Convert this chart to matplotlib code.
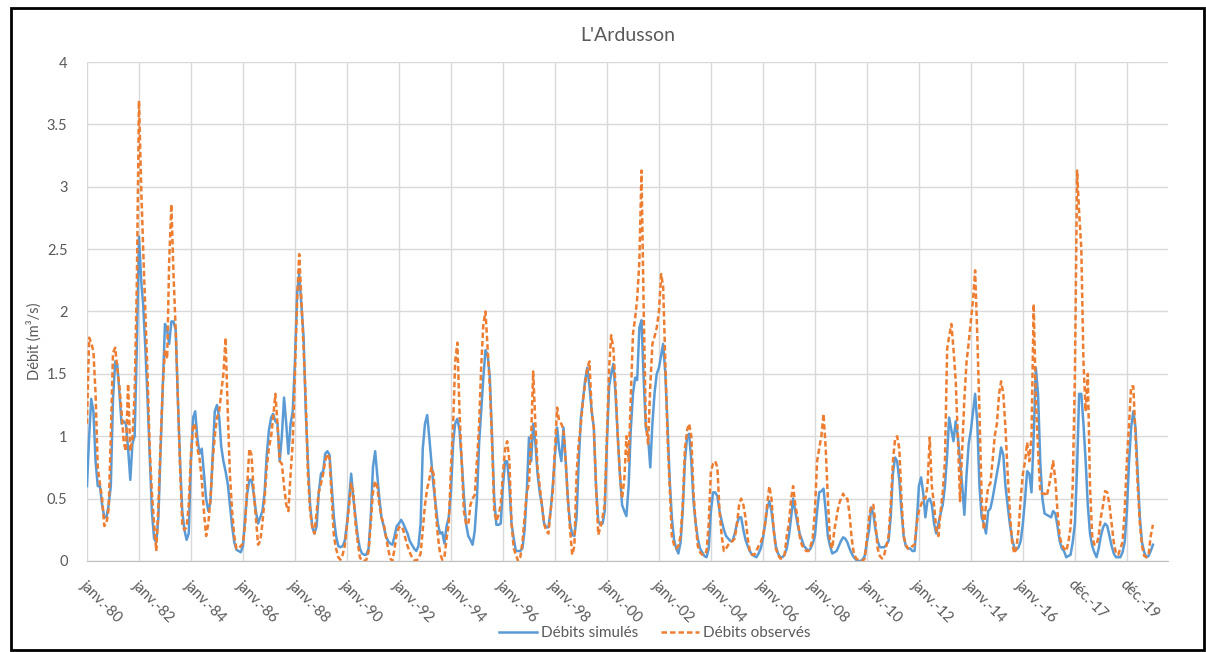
import numpy as np
import pandas as pd
import matplotlib
matplotlib.use('Agg')
from matplotlib import pyplot as plt
from matplotlib.patches import Rectangle

plt.rcParams['font.family'] = ['Lato', 'DejaVu Sans']

# débits mensuels simulés (m3/s), janv. 1980 -> janv. 2021
sim_1980s = [0.6, 1.0, 1.3, 1.2, 0.8, 0.6, 0.6, 0.45, 0.35, 0.35, 0.45, 0.6,
             1.3, 1.6, 1.58, 1.35, 1.1, 1.12, 1.1, 0.9, 0.65, 0.94, 1.0, 1.7,
             2.6, 2.25, 2.05, 1.7, 1.3, 0.85, 0.4, 0.18, 0.15, 0.35, 0.9, 1.4,
             1.9, 1.85, 1.74, 1.92, 1.92, 1.85, 1.3, 0.8, 0.4, 0.25, 0.17, 0.22,
             0.8, 1.15, 1.2, 0.98, 0.86, 0.9, 0.7, 0.5, 0.4, 0.47, 0.85, 1.2,
             1.25, 1.15, 0.92, 0.8, 0.72, 0.62, 0.45, 0.28, 0.15, 0.09, 0.08, 0.07,
             0.12, 0.35, 0.54, 0.65, 0.65, 0.54, 0.4, 0.3, 0.35, 0.4, 0.55, 0.85,
             1.05, 1.15, 1.18, 1.12, 1.1, 0.8, 1.0, 1.31, 1.1, 0.86, 1.1, 1.2,
             1.6, 2.15, 2.3, 2.05, 1.8, 1.2, 0.8, 0.45, 0.27, 0.22, 0.28, 0.55,
             0.7, 0.72, 0.86, 0.88, 0.85, 0.6, 0.35, 0.2, 0.12, 0.11, 0.12, 0.16]
sim_1990s = [0.3, 0.5, 0.7, 0.5, 0.35, 0.2, 0.1, 0.06, 0.05, 0.05, 0.1, 0.35,
             0.75, 0.88, 0.7, 0.5, 0.35, 0.28, 0.2, 0.16, 0.14, 0.13, 0.2, 0.28,
             0.3, 0.33, 0.3, 0.26, 0.22, 0.16, 0.13, 0.1, 0.08, 0.12, 0.3, 0.9,
             1.1, 1.17, 1.0, 0.8, 0.6, 0.45, 0.3, 0.22, 0.23, 0.14, 0.28, 0.35,
             0.55, 0.95, 1.1, 1.14, 1.05, 0.8, 0.53, 0.3, 0.2, 0.17, 0.13, 0.24,
             0.5, 0.95, 1.2, 1.47, 1.69, 1.65, 1.47, 1.0, 0.5, 0.29, 0.29, 0.3,
             0.6, 0.8, 0.8, 0.6, 0.3, 0.18, 0.08, 0.08, 0.08, 0.1, 0.25, 0.55,
             0.99, 0.8, 1.1, 0.95, 0.7, 0.55, 0.45, 0.3, 0.27, 0.27, 0.4, 0.6,
             0.85, 1.07, 0.9, 0.8, 1.07, 0.8, 0.5, 0.3, 0.21, 0.2, 0.35, 0.8,
             1.15, 1.3, 1.45, 1.55, 1.4, 1.2, 1.07, 0.6, 0.32, 0.29, 0.3, 0.4]
sim_2000s = [0.95, 1.4, 1.5, 1.58, 1.34, 1.0, 0.7, 0.45, 0.4, 0.36, 0.6, 1.05,
             1.34, 1.47, 1.45, 1.87, 1.93, 1.45, 1.07, 1.0, 0.75, 1.1, 1.35, 1.5,
             1.55, 1.65, 1.74, 1.5, 1.1, 0.65, 0.35, 0.17, 0.1, 0.06, 0.15, 0.4,
             0.8, 1.0, 1.02, 0.8, 0.48, 0.3, 0.18, 0.1, 0.07, 0.04, 0.03, 0.1,
             0.4, 0.55, 0.55, 0.52, 0.4, 0.32, 0.25, 0.2, 0.18, 0.16, 0.16, 0.22,
             0.3, 0.35, 0.35, 0.25, 0.17, 0.12, 0.08, 0.05, 0.04, 0.03, 0.06, 0.1,
             0.18, 0.3, 0.42, 0.48, 0.4, 0.25, 0.12, 0.06, 0.03, 0.03, 0.05, 0.1,
             0.2, 0.35, 0.5, 0.4, 0.3, 0.22, 0.17, 0.12, 0.1, 0.08, 0.1, 0.14,
             0.2, 0.4, 0.55, 0.56, 0.58, 0.4, 0.2, 0.12, 0.06, 0.07, 0.08, 0.12,
             0.16, 0.19, 0.18, 0.15, 0.1, 0.06, 0.03, 0.01, 0.0, 0.0, 0.01, 0.04]
sim_2010s = [0.15, 0.25, 0.43, 0.38, 0.25, 0.16, 0.11, 0.11, 0.11, 0.13, 0.16, 0.35,
             0.7, 0.83, 0.8, 0.65, 0.4, 0.2, 0.12, 0.1, 0.1, 0.08, 0.08, 0.3,
             0.6, 0.67, 0.55, 0.35, 0.48, 0.5, 0.45, 0.3, 0.22, 0.3, 0.38, 0.45,
             0.6, 0.85, 1.15, 1.05, 0.96, 1.12, 1.0, 0.8, 0.6, 0.37, 0.7, 0.94,
             1.05, 1.2, 1.34, 1.1, 0.6, 0.35, 0.3, 0.22, 0.4, 0.42, 0.5, 0.6,
             0.7, 0.8, 0.91, 0.85, 0.6, 0.45, 0.3, 0.18, 0.11, 0.09, 0.11, 0.16,
             0.3, 0.5, 0.72, 0.7, 0.55, 1.0, 1.55, 1.34, 0.8, 0.5, 0.38, 0.37,
             0.36, 0.35, 0.4, 0.38, 0.28, 0.16, 0.1, 0.08, 0.03, 0.04, 0.05, 0.15,
             0.3, 0.75, 1.34, 1.34, 1.1, 0.8, 0.45, 0.22, 0.12, 0.07, 0.03, 0.1,
             0.2, 0.27, 0.3, 0.28, 0.2, 0.12, 0.06, 0.03, 0.03, 0.03, 0.07, 0.15]
sim_2020s = [0.4, 0.8, 1.07, 1.2, 1.07, 0.7, 0.35, 0.15, 0.07, 0.03, 0.04, 0.08,
             0.13]

# débits mensuels observés (m3/s)
obs_1980s = [1.1, 1.79, 1.75, 1.68, 1.34, 0.75, 0.62, 0.5, 0.28, 0.3, 0.42, 1.0,
             1.67, 1.71, 1.55, 1.4, 1.2, 0.95, 0.88, 1.42, 0.88, 0.98, 1.35, 2.2,
             3.69, 3.0, 2.5, 2.0, 1.5, 0.9, 0.55, 0.3, 0.08, 0.45, 0.95, 1.4,
             1.69, 1.62, 2.4, 2.86, 2.3, 1.85, 1.3, 0.75, 0.29, 0.25, 0.27, 0.45,
             0.85, 1.1, 1.08, 0.9, 0.82, 0.65, 0.4, 0.2, 0.3, 0.5, 0.8, 1.0,
             1.15, 1.2, 1.35, 1.5, 1.79, 1.2, 0.7, 0.4, 0.2, 0.1, 0.1, 0.12,
             0.14, 0.3, 0.6, 0.9, 0.85, 0.55, 0.35, 0.13, 0.16, 0.3, 0.5, 0.75,
             0.91, 1.0, 1.15, 1.34, 1.1, 0.8, 0.78, 0.6, 0.45, 0.4, 0.7, 0.95,
             1.5, 2.1, 2.46, 2.1, 1.7, 1.3, 0.7, 0.4, 0.27, 0.22, 0.4, 0.55,
             0.62, 0.7, 0.8, 0.86, 0.82, 0.5, 0.2, 0.1, 0.03, 0.01, 0.05, 0.12]
obs_1990s = [0.28, 0.45, 0.62, 0.55, 0.3, 0.15, 0.03, 0.0, 0.0, 0.01, 0.08, 0.3,
             0.55, 0.64, 0.6, 0.45, 0.35, 0.3, 0.2, 0.1, 0.02, 0.0, 0.1, 0.22,
             0.27, 0.28, 0.25, 0.18, 0.12, 0.07, 0.03, 0.01, 0.0, 0.02, 0.06, 0.25,
             0.45, 0.58, 0.65, 0.75, 0.7, 0.4, 0.2, 0.06, 0.01, 0.03, 0.18, 0.3,
             0.75, 1.1, 1.6, 1.75, 1.2, 0.8, 0.4, 0.3, 0.29, 0.45, 0.5, 0.53,
             0.8, 1.1, 1.55, 1.9, 2.0, 1.7, 1.4, 0.95, 0.4, 0.32, 0.37, 0.45,
             0.7, 0.9, 0.96, 0.8, 0.3, 0.1, 0.05, 0.0, 0.03, 0.15, 0.35, 0.55,
             0.62, 1.0, 1.52, 1.1, 0.75, 0.6, 0.45, 0.3, 0.24, 0.22, 0.4, 0.55,
             0.9, 1.23, 1.12, 1.1, 1.05, 0.8, 0.5, 0.25, 0.05, 0.12, 0.7, 0.95,
             1.1, 1.3, 1.42, 1.55, 1.6, 1.2, 1.07, 0.6, 0.21, 0.27, 0.35, 0.45]
obs_2000s = [1.0, 1.55, 1.81, 1.7, 1.4, 1.0, 0.7, 0.5, 0.65, 1.0, 0.8, 1.3,
             1.82, 1.95, 2.1, 2.4, 3.13, 2.0, 1.1, 0.94, 1.4, 1.74, 1.8, 1.87,
             2.0, 2.3, 2.2, 1.6, 1.0, 0.6, 0.2, 0.13, 0.1, 0.12, 0.2, 0.45,
             0.9, 1.05, 1.1, 1.0, 0.55, 0.3, 0.12, 0.07, 0.05, 0.05, 0.08, 0.3,
             0.72, 0.78, 0.8, 0.75, 0.4, 0.2, 0.08, 0.1, 0.13, 0.15, 0.16, 0.18,
             0.3, 0.45, 0.5, 0.45, 0.35, 0.18, 0.08, 0.05, 0.05, 0.08, 0.12, 0.15,
             0.2, 0.3, 0.45, 0.6, 0.5, 0.25, 0.1, 0.05, 0.02, 0.02, 0.05, 0.2,
             0.3, 0.5, 0.6, 0.45, 0.35, 0.2, 0.13, 0.1, 0.08, 0.08, 0.12, 0.18,
             0.4, 0.8, 0.9, 1.0, 1.18, 0.9, 0.5, 0.15, 0.1, 0.25, 0.35, 0.45,
             0.5, 0.54, 0.5, 0.5, 0.38, 0.18, 0.06, 0.02, 0.01, 0.0, 0.0, 0.02]
obs_2010s = [0.18, 0.35, 0.44, 0.45, 0.3, 0.1, 0.04, 0.02, 0.05, 0.12, 0.2, 0.45,
             0.8, 0.98, 1.0, 0.9, 0.5, 0.2, 0.13, 0.1, 0.1, 0.12, 0.13, 0.3,
             0.4, 0.45, 0.5, 0.5, 0.6, 0.99, 0.6, 0.45, 0.25, 0.2, 0.4, 0.55,
             0.8, 1.7, 1.8, 1.9, 1.7, 1.45, 1.0, 0.48, 0.9, 1.3, 1.6, 1.75,
             1.93, 2.1, 2.33, 1.8, 1.2, 0.5, 0.25, 0.45, 0.6, 0.62, 0.8, 1.0,
             1.1, 1.34, 1.44, 1.34, 1.07, 0.7, 0.4, 0.16, 0.06, 0.1, 0.25, 0.5,
             0.7, 0.8, 0.95, 0.8, 1.0, 2.06, 1.3, 0.9, 0.55, 0.54, 0.54, 0.52,
             0.6, 0.7, 0.8, 0.65, 0.4, 0.2, 0.13, 0.1, 0.08, 0.15, 0.27, 0.6,
             1.5, 3.13, 2.8, 2.5, 1.6, 1.2, 1.5, 0.6, 0.2, 0.13, 0.13, 0.2,
             0.35, 0.45, 0.56, 0.55, 0.45, 0.3, 0.15, 0.06, 0.05, 0.1, 0.15, 0.4]
obs_2020s = [0.8, 1.1, 1.4, 1.4, 1.0, 0.6, 0.3, 0.12, 0.04, 0.03, 0.05, 0.2,
             0.29]

tick_labels = ['janv.-80', 'janv.-82', 'janv.-84', 'janv.-86', 'janv.-88',
               'janv.-90', 'janv.-92', 'janv.-94', 'janv.-96', 'janv.-98',
               'janv.-00', 'janv.-02', 'janv.-04', 'janv.-06', 'janv.-08',
               'janv.-10', 'janv.-12', 'janv.-14', 'janv.-16', 'déc.-17',
               'déc.-19']
y_ticks = [0, 0.5, 1, 1.5, 2, 2.5, 3, 3.5, 4]
y_labels = ['0', '0.5', '1', '1.5', '2', '2.5', '3', '3.5', '4']

sim = np.array(sim_1980s + sim_1990s + sim_2000s + sim_2010s + sim_2020s)
obs = np.array(obs_1980s + obs_1990s + obs_2000s + obs_2010s + obs_2020s)
dates = pd.date_range('1980-01-01', periods=len(sim), freq='MS')
tick_dates = pd.date_range('1980-01-01', periods=len(tick_labels), freq='24MS')

grey = '#595959'
fig = plt.figure(figsize=(12.06, 6.52), dpi=100)
ax = fig.add_axes([0.0721, 0.1396, 0.8964, 0.7653])

ax.plot(dates, sim, color='#5B9BD5', lw=1.8, label='Débits simulés', zorder=3)
ax.plot(dates, obs, color='#ED7D31', lw=1.8, ls=(0, (2.2, 1.2)),
        label='Débits observés', zorder=4)

ax.set_xlim(pd.Timestamp('1980-01-01'), pd.Timestamp('2021-08-01'))
ax.set_ylim(0, 4)
ax.set_yticks(y_ticks)
ax.set_yticklabels(y_labels)
ax.set_xticks(tick_dates)
ax.set_xticklabels(tick_labels, rotation=-45, ha='left', va='top',
                   rotation_mode='anchor')
ax.tick_params(axis='x', length=0, pad=12, labelsize=10.5, labelcolor=grey)
ax.tick_params(axis='y', length=0, pad=14, labelsize=10.5, labelcolor=grey)
ax.grid(True, color='#d9d9d9', lw=1)
ax.set_axisbelow(True)
for s in ['top', 'right', 'left']:
    ax.spines[s].set_visible(False)
ax.spines['bottom'].set_color('#bfbfbf')

ax.set_title("L'Ardusson", fontsize=14, color=grey, pad=15)
fig.text(0.028, 0.477, 'Débit (m³/s)', rotation=90, ha='center', va='center',
         fontsize=10.5, color=grey)

fig.legend(loc='center', bbox_to_anchor=(0.543, 0.029), ncol=2, frameon=False,
           fontsize=11, labelcolor=grey, handlelength=2.5, handletextpad=0.25,
           columnspacing=1.5)

# cadre noir autour du graphique
fig.add_artist(Rectangle((0.0095, 0.003), 0.989, 0.985, transform=fig.transFigure,
                         fill=False, ec='black', lw=2))

plt.savefig('out.png', dpi=100)
